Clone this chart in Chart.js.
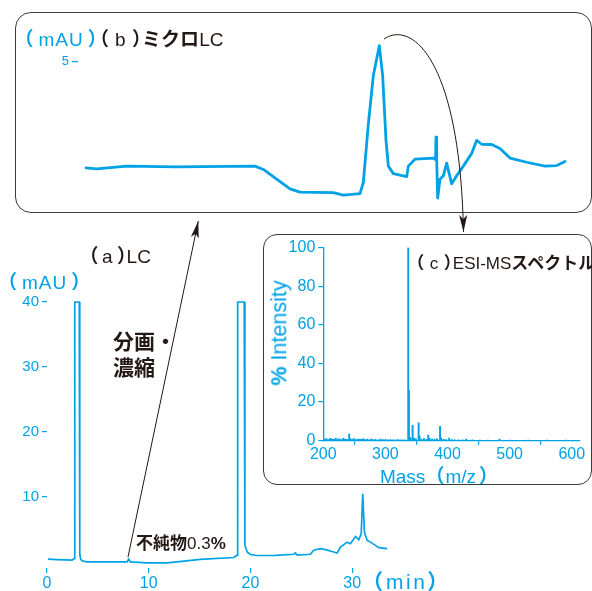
<!DOCTYPE html>
<html>
<head>
<meta charset="utf-8">
<script src="https://cdn.jsdelivr.net/npm/chart.js@4.4.1/dist/chart.umd.min.js"></script>
<style>
  html, body { margin: 0; padding: 0; background: #fff; }
  #stage { position: relative; width: 592px; height: 591px; overflow: hidden; background: #fff;
           font-family: 'Liberation Sans', Arial, 'Noto Sans CJK JP', sans-serif; }
  canvas { position: absolute; }
  .box { position: absolute; box-sizing: border-box; border: 1.3px solid #3a3a3a; border-radius: 16px; background: #fff; }
  .t { position: absolute; white-space: nowrap; line-height: 1; }
  .blue { color: #00a2e6; }
  .dark { color: #231815; }
  .jp { font-family: 'Noto Sans CJK JP', sans-serif; }
  .b { font-weight: 700; }
  .p { font-family: 'Noto Sans CJK JP', sans-serif; font-weight: 700; }
  svg { position: absolute; left: 0; top: 0; }
</style>
</head>
<body>
<div id="stage">
  <canvas id="lc" width="592" height="301" style="left:0;top:290px"></canvas>

  <div class="box" style="left:15px;top:12px;width:577px;height:201px"></div>
  <canvas id="micro" width="574" height="198" style="left:16px;top:13px"></canvas>

  <div class="box" style="left:263px;top:234px;width:329px;height:251px;border-radius:14px"></div>
  <canvas id="ms" width="327" height="248" style="left:264px;top:235px"></canvas>

  <!-- (a) LC labels -->
  <div class="t blue" style="left:-2px;top:271px;font-size:19px"><span class="p" style="margin-right:5px">（</span><span style="letter-spacing:1px">mAU</span><span class="p" style="margin-left:4px">）</span></div>
  <div class="t dark" style="left:79.5px;top:244.5px;font-size:19px"><span class="p" style="margin-right:3.5px">（</span>a<span class="p" style="margin-left:4.5px;margin-right:-9.5px">）</span>LC</div>
  <div class="t blue" style="left:362px;top:570px;font-size:21px"><span class="p" style="margin-right:3px">（</span><span style="letter-spacing:2.5px">min</span><span class="p">）</span></div>
  <div class="t dark jp b" style="left:113px;top:327px;font-size:21px;line-height:26px">分画・<br>濃縮</div>
  <div class="t dark" style="left:136px;top:533px;font-size:17px"><span class="jp b">不純物</span>0.3<span class="b">%</span></div>

  <!-- (b) micro LC labels -->
  <div class="t blue" style="left:14.5px;top:27.5px;font-size:19px"><span class="p" style="margin-right:5px">（</span><span style="letter-spacing:1px">mAU</span><span class="p" style="margin-left:4px">）</span></div>
  <div class="t dark" style="left:90px;top:27.5px;font-size:19px"><span class="p" style="margin-right:6px">（</span>b<span class="p" style="margin-left:6.5px;margin-right:-9px">）</span><span class="jp b">ミクロ</span>LC</div>

  <!-- (c) ESI-MS labels -->
  <div class="t dark" style="left:407.3px;top:253px;font-size:17px"><span class="p" style="margin-right:5.5px">（</span>c<span class="p" style="margin-left:5.5px;margin-right:-8px">）</span>ESI-MS<span class="jp b">スペクトル</span></div>
  <div class="t blue" style="left:280px;top:333px;font-size:21.5px;transform:translate(-50%,-50%) rotate(-90deg)"><span class="b">%</span> Intensity</div>
  <div class="t blue" style="left:439px;top:475px;font-size:19px;transform:translate(-50%,-50%)">Mass<span class="p" style="margin-right:1px">（</span>m/z<span class="p" style="margin-left:3px">）</span></div>

  <svg width="592" height="591" viewBox="0 0 592 591">
    <defs>
      <marker id="head" markerWidth="18" markerHeight="10" refX="17" refY="5" orient="auto" markerUnits="userSpaceOnUse">
        <path d="M0,1 L17,5 L0,9 L4,5 Z" fill="#231815"/>
      </marker>
    </defs>
    <path d="M128,557 L198.3,221" stroke="#231815" stroke-width="1" fill="none" marker-end="url(#head)"/>
    <path d="M384,39 C412,20 460,60 463.5,232" stroke="#231815" stroke-width="1" fill="none" marker-end="url(#head)"/>
  </svg>
</div>

<script>
// (a) analytical LC trace: retention time (min) and absorbance (mAU)
const lcTime = [0.1, 1.0, 2.46, 2.68, 2.73, 3.17, 3.22, 3.30, 3.44, 3.93, 5.5, 7.87, 8.02, 8.19, 9.83, 11.8,
  12.78, 15.07, 18.35, 18.68, 18.74, 19.38, 19.45, 19.67, 19.99, 20.65, 22.5, 24.25, 24.42, 24.58, 25.89,
  26.21, 26.87, 27.36, 28.18, 28.52, 28.84, 29.50, 29.82, 30.32, 30.64, 30.88, 31.03, 31.20, 31.47, 31.79,
  32.28, 32.61, 33.43];
const lcAbs = [0.36, 0.30, 0.21, 0.47, 40, 40, 1.2, 0.4, 0.11, -0.05, -0.05, -0.05, 0.36, -0.05, -0.2, -0.2,
  -0.05, 0.32, 0.62, 0.97, 40, 40, 2.5, 1.47, 1.08, 0.93, 0.95, 1.12, 1.32, 0.97, 1.12,
  1.73, 1.99, 1.84, 1.47, 1.32, 2.23, 2.99, 2.75, 3.86, 3.36, 4.27, 10.44, 4.51, 3.25, 2.99,
  2.49, 2.14, 1.99];
const lcTicksX = [0, 10, 20, 30];
const lcTicksY = [10, 20, 30, 40];

// (b) micro LC trace of the collected fraction
const microTime = [0.48, 1.12, 2.92, 5.92, 10.62, 11.12, 11.92, 12.72, 13.32, 15.32, 15.92, 16.92, 17.12,
  17.42, 17.72, 18.08, 18.28, 18.48, 18.62, 18.92, 19.72, 19.82, 20.22, 21.32, 21.45, 21.48, 21.52, 21.58,
  21.72, 21.92, 22.12, 22.42, 22.72, 23.12, 23.62, 23.92, 24.22, 24.82, 25.32, 25.92, 26.92, 28.02, 28.72, 29.22];
const microAbs = [1.17, 1.13, 1.23, 1.20, 1.23, 1.11, 0.76, 0.41, 0.29, 0.27, 0.18, 0.24, 0.64,
  2.75, 4.50, 5.58, 4.50, 2.16, 1.23, 0.96, 0.85, 1.23, 1.48, 1.52, 1.47, 2.28, 1.47, 0.08,
  0.76, 0.88, 1.34, 0.59, 0.88, 1.23, 1.69, 2.16, 2.02, 2.01, 1.87, 1.52, 1.37, 1.23, 1.25, 1.40];
const microTicksY = [5];

// (c) ESI-MS spectrum: m/z and relative intensity (%)
const msMz = [202, 205, 208, 211, 214, 217, 220, 223, 226, 229, 232, 235, 238, 241.6, 244, 247, 250, 253, 256, 259,
  262, 265, 268, 271, 274, 277, 280, 284, 288, 292, 296, 300, 304, 308, 312, 316, 320, 324, 328, 332,
  336.8, 337.8, 339.5, 341, 343.8, 346, 349, 353.5, 355, 358, 362, 366, 369, 371, 375, 379, 383, 388, 390, 394,
  398, 402.7, 407, 412, 418, 424, 430, 440, 452, 465, 483.8, 500, 530, 560, 590];
const msIntensity = [0.8, 1.1, 0.6, 1.2, 0.9, 0.7, 1.3, 0.8, 1.0, 0.6, 1.2, 0.9, 0.7, 3.4, 1.0, 0.8, 1.1, 0.6, 0.9, 0.7,
  0.8, 1.0, 0.6, 0.9, 0.5, 0.8, 0.6, 0.7, 0.5, 0.8, 0.6, 0.7, 0.5, 0.6, 0.4, 0.5, 0.6, 0.4, 0.5, 0.4,
  100, 26, 1.8, 1.0, 8.0, 1.2, 1.0, 9.2, 2.4, 0.9, 1.1, 0.7, 2.9, 1.2, 0.8, 0.9, 1.0, 7.5, 1.4, 0.7,
  0.6, 1.3, 0.6, 0.5, 0.5, 0.4, 0.9, 0.4, 0.3, 0.3, 0.8, 0.3, 0.3, 0.2, 0.2];
const msTicksX = [200, 300, 400, 500, 600];
const msTicksY = [0, 20, 40, 60, 80, 100];

const BLUE = '#00a2e6';
const FONT = "'Liberation Sans', Arial, sans-serif";

const pairs = (xs, ys) => xs.map((x, i) => ({ x: x, y: ys[i] }));
const fixedTicks = list => scale => { scale.ticks = list.map(v => ({ value: v })); };
const baseOptions = padding => ({
  responsive: false, animation: false, devicePixelRatio: 1, events: [],
  layout: { padding: padding },
  plugins: { legend: { display: false }, tooltip: { enabled: false } }
});
const tickGrid = len => ({ drawOnChartArea: false, drawTicks: true, tickLength: len, color: BLUE, lineWidth: 1.2 });

// (a) LC
new Chart(document.getElementById('lc'), {
  type: 'line',
  data: { datasets: [{ data: pairs(lcTime, lcAbs), borderColor: BLUE, borderWidth: 1.7,
    pointRadius: 0, tension: 0, clip: false }] },
  options: Object.assign(baseOptions({ top: 8, right: 138, left: 0, bottom: 0 }), {
    scales: {
      x: { type: 'linear', min: 0, max: 40, afterBuildTicks: fixedTicks(lcTicksX),
        afterFit: s => { s.height = 23; }, border: { display: false }, grid: tickGrid(5),
        ticks: { color: BLUE, font: { family: FONT, size: 16 }, padding: 1, maxRotation: 0, autoSkip: false } },
      y: { type: 'linear', min: -1, max: 40, afterBuildTicks: fixedTicks(lcTicksY),
        afterFit: s => { s.width = 47; }, border: { display: false }, grid: tickGrid(5),
        ticks: { color: BLUE, font: { family: FONT, size: 15 }, padding: 3 } }
    }
  })
});

// (b) micro LC
new Chart(document.getElementById('micro'), {
  type: 'line',
  data: { datasets: [{ data: pairs(microTime, microAbs), borderColor: BLUE, borderWidth: 2.8,
    pointRadius: 0, tension: 0, borderJoinStyle: 'round', borderCapStyle: 'round' }] },
  options: Object.assign(baseOptions({ top: 21, right: 12, left: 0, bottom: 6 }), {
    scales: {
      x: { type: 'linear', min: 0, max: 30, display: false },
      y: { type: 'linear', min: 0, max: 6, afterBuildTicks: fixedTicks(microTicksY),
        afterFit: s => { s.width = 62; }, border: { display: false }, grid: tickGrid(6),
        ticks: { color: BLUE, font: { family: FONT, size: 13 }, padding: 3 } }
    }
  })
});

// (c) ESI-MS spectrum
new Chart(document.getElementById('ms'), {
  type: 'bar',
  data: { datasets: [{ data: pairs(msMz, msIntensity), backgroundColor: BLUE, borderWidth: 0,
    barThickness: 1.3, grouped: false }] },
  options: Object.assign(baseOptions({ top: 10.7, right: 11.8, left: 0, bottom: 0 }), {
    scales: {
      x: { type: 'linear', min: 200, max: 612, offset: false, afterBuildTicks: fixedTicks(msTicksX),
        afterFit: s => { s.height = 42.3; }, border: { display: true, color: BLUE, width: 1.3 }, grid: tickGrid(4),
        ticks: { color: BLUE, font: { family: FONT, size: 16 }, padding: 0, maxRotation: 0, autoSkip: false } },
      y: { type: 'linear', min: 0, max: 100, afterBuildTicks: fixedTicks(msTicksY),
        afterFit: s => { s.width = 59.3; }, border: { display: true, color: BLUE, width: 1.3 }, grid: tickGrid(5),
        ticks: { color: BLUE, font: { family: FONT, size: 16 }, padding: 3 } }
    }
  })
});
</script>
</body>
</html>
